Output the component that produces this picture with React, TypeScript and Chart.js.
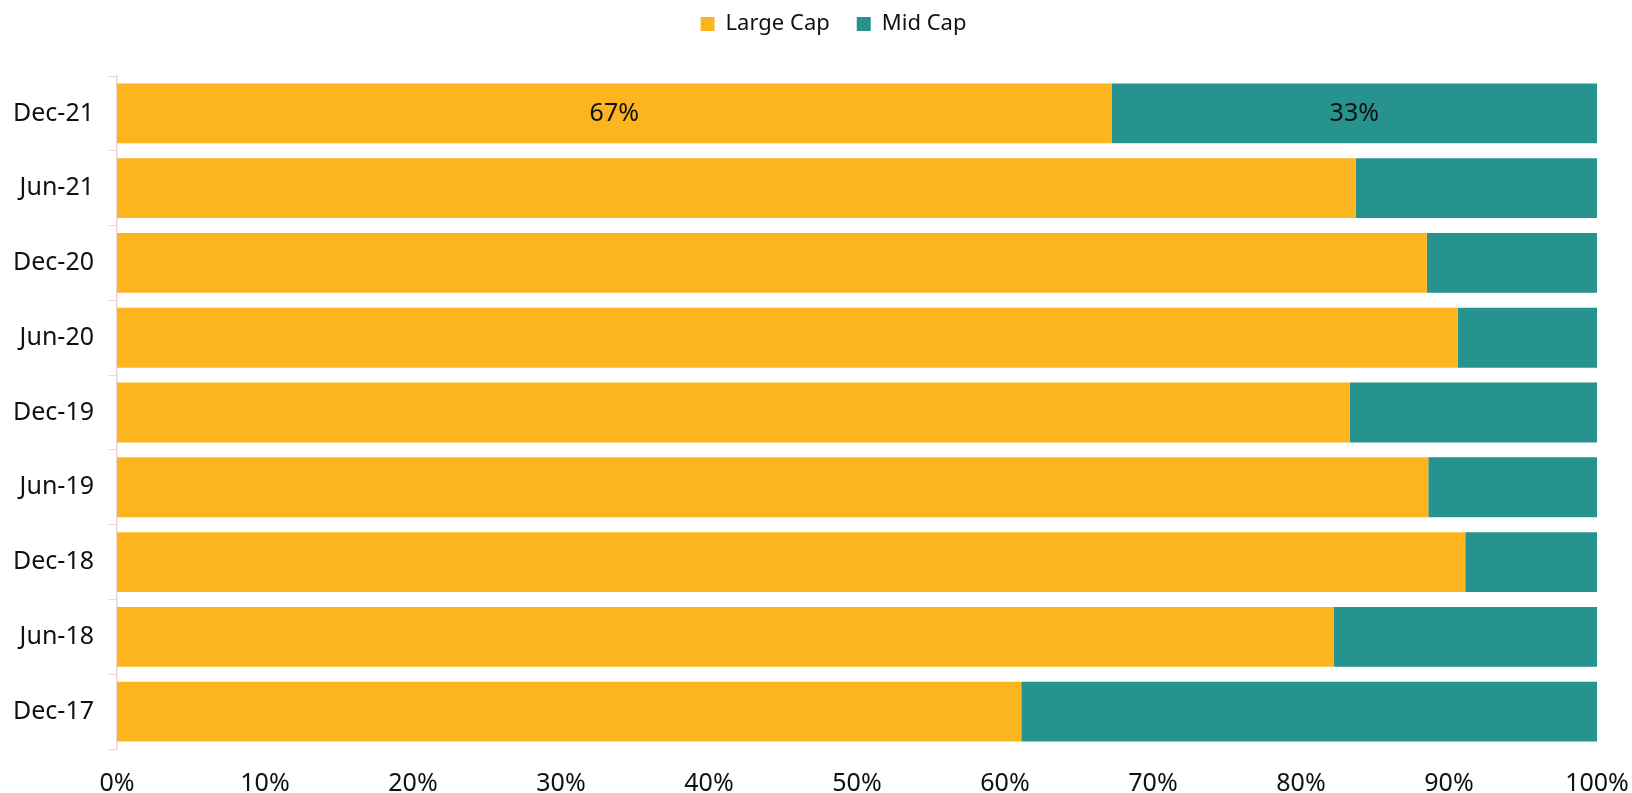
import React, { useEffect, useRef } from "react";
import { Chart, registerables } from "chart.js";

Chart.register(...registerables);

const categories = ["Dec-21", "Jun-21", "Dec-20", "Jun-20", "Dec-19", "Jun-19", "Dec-18", "Jun-18", "Dec-17"];
const largeCap = [67.2, 83.7, 88.5, 90.6, 83.3, 88.6, 91.1, 82.2, 61.1];
const midCap = [32.8, 16.3, 11.5, 9.4, 16.7, 11.4, 8.9, 17.8, 38.9];
const largeCapLabels = ["67%", "", "", "", "", "", "", "", ""];
const midCapLabels = ["33%", "", "", "", "", "", "", "", ""];
const xTicks = [0, 10, 20, 30, 40, 50, 60, 70, 80, 90, 100];

const FONT = "'Noto Sans', sans-serif";
const ORANGE = "#FDB51F";
const TEAL = "#27938F";
const AXIS = "#EAD5D8";

const labelPlugin = {
  id: "barLabels",
  beforeInit(chart: any) {
    const legend = chart.legend;
    if (legend && !legend.__patched) {
      const orig = legend.fit.bind(legend);
      legend.fit = function () {
        orig();
        this.height += 31;
      };
      legend.__patched = true;
    }
  },
  afterLayout(chart: any) {
    const legend = chart.legend;
    if (legend) {
      legend.left += 70;
      legend.right += 0;
    }
  },
  afterDatasetsDraw(chart: any) {
    const ctx = chart.ctx;
    const sets = [largeCapLabels, midCapLabels];
    ctx.save();
    ctx.font = `25px ${FONT}`;
    ctx.fillStyle = "#111";
    ctx.textAlign = "center";
    ctx.textBaseline = "middle";
    chart.data.datasets.forEach((_: any, di: number) => {
      const meta = chart.getDatasetMeta(di);
      meta.data.forEach((bar: any, i: number) => {
        const txt = sets[di][i];
        if (!txt) return;
        const x = (bar.x + bar.base) / 2;
        ctx.fillText(txt, x, bar.y);
      });
    });
    ctx.restore();
  },
};

export default function App() {
  const ref = useRef<HTMLCanvasElement>(null);
  useEffect(() => {
    if (!ref.current) return;
    const chart = new Chart(ref.current, {
      type: "bar",
      data: {
        labels: categories,
        datasets: [
          { label: "Large Cap", data: largeCap, backgroundColor: ORANGE, barPercentage: 0.8, categoryPercentage: 1 },
          { label: "Mid Cap", data: midCap, backgroundColor: TEAL, barPercentage: 0.8, categoryPercentage: 1 },
        ],
      },
      options: {
        indexAxis: "y",
        animation: false,
        responsive: true,
        maintainAspectRatio: false,
        layout: { padding: { left: 0, right: 35, top: -14, bottom: 0 } },
        plugins: {
          legend: {
            position: "top",
            labels: {
              boxWidth: 14,
              boxHeight: 14,
              padding: 27,
              color: "#111",
              font: { family: FONT, size: 22 },
            },
          },
          tooltip: { enabled: false },
        },
        scales: {
          x: {
            stacked: true,
            min: 0,
            max: 100,
            afterBuildTicks: (s: any) => {
              s.ticks = xTicks.map((v) => ({ value: v }));
            },
            ticks: {
              callback: (v: any) => v + "%",
              color: "#111",
              font: { family: FONT, size: 25 },
              padding: 12,
            },
            grid: { display: false },
            border: { display: false },
            afterFit: (s: any) => {
              s.height = 44;
              s.paddingLeft = 0;
              s.paddingRight = 0;
            },
          },
          y: {
            stacked: true,
            ticks: {
              color: "#111",
              font: { family: FONT, size: 25 },
              padding: 15,
            },
            grid: {
              offset: true,
              drawOnChartArea: false,
              drawTicks: true,
              tickLength: 8,
              color: AXIS,
            },
            border: { display: true, color: AXIS, width: 1.5 },
            afterFit: (s: any) => {
              s.width = 117;
            },
          },
        },
      },
      plugins: [labelPlugin],
    } as any);
    return () => chart.destroy();
  }, []);
  return (
    <div style={{ position: "fixed", left: 0, top: 0, width: "100vw", height: "100vh", background: "#fff" }}>
      <canvas ref={ref} />
    </div>
  );
}
